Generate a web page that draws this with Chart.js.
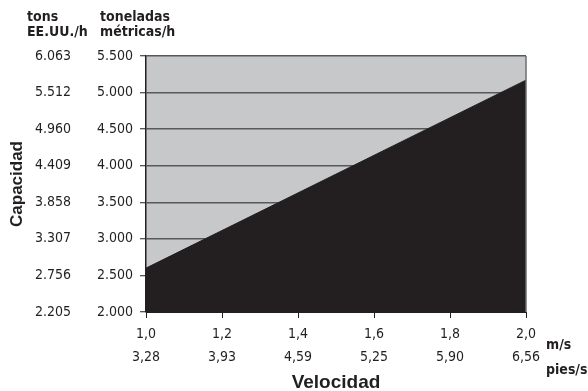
<!DOCTYPE html>
<html>
<head>
<meta charset="utf-8">
<script src="https://cdn.jsdelivr.net/npm/chart.js@4.4.0/dist/chart.umd.min.js"></script>
<style>
  html, body { margin: 0; padding: 0; background: #fff; }
  #wrap { width: 588px; height: 391px; position: relative; }
</style>
</head>
<body>
<div id="wrap"><canvas id="capacityChart"></canvas></div>
<script>
// Velocidad (m/s) y capacidad (toneladas métricas/h)
const speedMs = [1.0, 2.0];
const capacityMt = [2600, 5170];

// Etiquetas de los ejes
const xTicksMs = ['1,0', '1,2', '1,4', '1,6', '1,8', '2,0'];
const xTicksFt = ['3,28', '3,93', '4,59', '5,25', '5,90', '6,56'];
const yTicksMt = ['2.000', '2.500', '3.000', '3.500', '4.000', '4.500', '5.000', '5.500'];
const yTicksTons = ['2.205', '2.756', '3.307', '3.858', '4.409', '4.960', '5.512', '6.063'];

const INK = '#231f20';
const NARROW = "'DejaVu Sans Condensed', 'Liberation Sans Narrow', sans-serif";
const WIDE = "'Liberation Sans', Arial, sans-serif";

/**
 * Gray plot background, right border and the unit headers
 */
const decorPlugin = {
    id: 'decor',
    beforeDraw(chart) {
        const { ctx, chartArea: a } = chart;
        ctx.save();
        ctx.fillStyle = '#c7c8ca';
        ctx.fillRect(a.left, a.top, a.right - a.left, a.bottom - a.top);
        ctx.restore();
    },
    afterDraw(chart) {
        const { ctx, chartArea: a } = chart;
        ctx.save();
        ctx.strokeStyle = '#6d6e70';
        ctx.lineWidth = 1.5;
        ctx.beginPath();
        ctx.moveTo(a.right, a.top);
        ctx.lineTo(a.right, a.bottom);
        ctx.stroke();

        ctx.fillStyle = INK;
        ctx.textBaseline = 'alphabetic';
        ctx.textAlign = 'left';
        ctx.font = 'bold 14px ' + NARROW;
        ctx.fillText('tons', 27, 21);
        ctx.fillText('EE.UU./h', 27, 36);
        ctx.fillText('toneladas', 100, 21);
        ctx.fillText('métricas/h', 100, 36);

        ctx.textBaseline = 'middle';
        ctx.font = 'bold 14px ' + NARROW;
        ctx.fillText('m/s', 546, 345);
        ctx.fillText('pies/s', 546, 370);
        ctx.restore();
    }
};

document.addEventListener('DOMContentLoaded', function () {
    const canvas = document.getElementById('capacityChart');

    const data = {
        datasets: [{
            data: speedMs.map((x, i) => ({ x: x, y: capacityMt[i] })),
            borderColor: INK,
            backgroundColor: INK,
            borderWidth: 1,
            pointRadius: 0,
            fill: 'start',
            tension: 0,
            yAxisID: 'y'
        }]
    };

    new Chart(canvas, {
        type: 'line',
        data: data,
        plugins: [decorPlugin],
        options: {
            responsive: true,
            maintainAspectRatio: false,
            animation: false,
            layout: { padding: { top: 56, right: 62, bottom: 0, left: 0 } },
            plugins: {
                legend: { display: false },
                tooltip: { enabled: false }
            },
            scales: {
                x: {
                    type: 'linear',
                    min: 1,
                    max: 2,
                    ticks: {
                        stepSize: 0.2,
                        padding: 4.5,
                        color: INK,
                        font: { family: NARROW, size: 14, lineHeight: 1.643 },
                        maxRotation: 0,
                        callback: (value, index) => [xTicksMs[index], xTicksFt[index]]
                    },
                    grid: { drawOnChartArea: false, tickLength: 6, color: INK, lineWidth: 1 },
                    border: { display: true, color: INK },
                    title: {
                        display: true,
                        text: 'Velocidad',
                        color: INK,
                        font: { family: WIDE, size: 19, weight: 'bold', lineHeight: 0.85 },
                        padding: { top: 0, bottom: 0 }
                    },
                    afterFit: (scale) => { scale.height = 79; }
                },
                y: {
                    position: 'left',
                    weight: 0,
                    min: 2000,
                    max: 5500,
                    ticks: {
                        stepSize: 500,
                        padding: 7,
                        color: INK,
                        font: { family: NARROW, size: 14 },
                        callback: (value, index) => yTicksMt[index]
                    },
                    grid: { color: '#58585a', lineWidth: 1.5, tickLength: 6, tickColor: INK, tickWidth: 1 },
                    border: { display: true, color: INK, width: 1.5 },
                    afterFit: (scale) => { scale.width = 50; }
                },
                y2: {
                    position: 'left',
                    weight: 1,
                    min: 2000,
                    max: 5500,
                    ticks: {
                        stepSize: 500,
                        padding: 25,
                        color: INK,
                        font: { family: NARROW, size: 14 },
                        callback: (value, index) => yTicksTons[index]
                    },
                    grid: { display: false, drawTicks: false },
                    border: { display: false },
                    title: {
                        display: true,
                        text: 'Capacidad',
                        color: INK,
                        font: { family: WIDE, size: 17, weight: 'bold', lineHeight: 1.2 },
                        padding: { top: 7, bottom: 0 }
                    },
                    afterFit: (scale) => { scale.width = 96; }
                }
            }
        }
    });
});
</script>
</body>
</html>
